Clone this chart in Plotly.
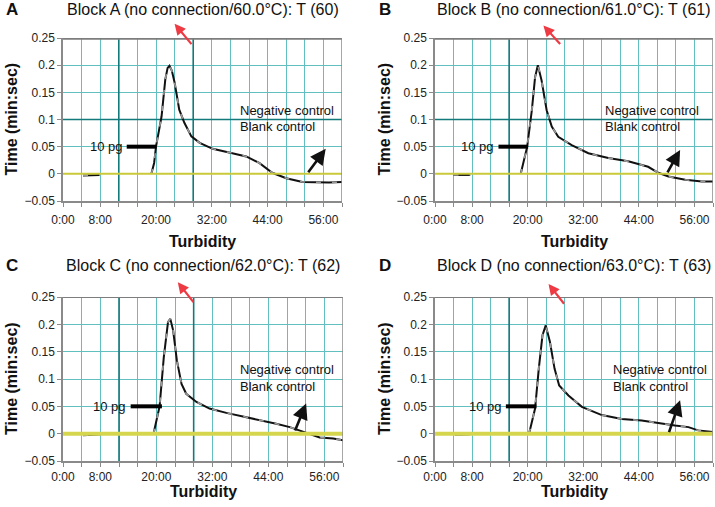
import plotly.graph_objects as go

# ---------------- data ----------------
minutes_A = [4.3, 6.0, 7.9, None, 19.0, 19.6, 20.0, 21.2, 22.0, 22.5, 22.9, 23.4, 24.0, 25.0, 26.1, 27.6, 29.4,
             32.2, 36.4, 39.4, 42.2, 45.0, 48.0, 51.5, 57.2, 60.0]
values_A = [-0.003, -0.003, -0.002, None, 0.0, 0.02, 0.05, 0.106, 0.174, 0.195, 0.199, 0.19, 0.168, 0.118, 0.094,
            0.069, 0.057, 0.046, 0.038, 0.032, 0.020, 0.002, -0.008, -0.015, -0.016, -0.015]

minutes_B = [4.0, 7.6, None, 18.5, 19.9, 20.9, 21.6, 22.2, 23.0, 24.1, 25.2, 26.6, 29.5, 33.1, 37.4, 41.7,
             46.0, 48.2, 50.4, 54.0, 57.6, 60.0]
values_B = [-0.002, -0.002, None, 0.0, 0.05, 0.117, 0.178, 0.2, 0.172, 0.117, 0.087, 0.068, 0.053, 0.038,
            0.029, 0.023, 0.013, 0.002, -0.005, -0.011, -0.014, -0.014]

minutes_C = [4.3, 8.2, None, 19.4, 20.7, 21.6, 22.5, 23.0, 23.6, 24.4, 25.4, 26.4, 28.6, 31.4, 35.0, 39.3,
             42.9, 45.7, 48.6, 50.7, 52.9, 55.0, 57.9, 60.0]
values_C = [-0.003, -0.001, None, 0.0, 0.05, 0.14, 0.204, 0.21, 0.189, 0.134, 0.091, 0.073, 0.058, 0.046,
            0.038, 0.030, 0.024, 0.018, 0.012, 0.006, 0.0, -0.007, -0.009, -0.012]

minutes_D = [4.3, 7.6, None, 20.3, 21.6, 22.4, 23.2, 23.9, 24.8, 25.8, 26.8, 28.8, 31.7, 36.0, 40.3, 44.6,
             48.9, 51.8, 54.7, 56.8, 60.0]
values_D = [-0.002, -0.001, None, 0.0, 0.046, 0.119, 0.18, 0.198, 0.168, 0.119, 0.088, 0.070, 0.049, 0.034,
            0.027, 0.024, 0.018, 0.015, 0.012, 0.006, 0.003]

control_minutes = [0, 60]
control_values = [0, 0]

panel_letters = ["A", "B", "C", "D"]
panel_titles = ["Block A (no connection/60.0°C): T (60)",
                "Block B (no connection/61.0°C): T (61)",
                "Block C (no connection/62.0°C): T (62)",
                "Block D (no connection/63.0°C): T (63)"]

x_tick_vals = [0, 8, 20, 32, 44, 56]
x_tick_text = ["0:00", "8:00", "20:00", "32:00", "44:00", "56:00"]
y_tick_vals = [-0.05, 0, 0.05, 0.1, 0.15, 0.2, 0.25]
y_tick_text = ["−0.05", "0", "0.05", "0.1", "0.15", "0.2", "0.25"]

series_label = "10 pg"
control_labels = ["Negative control", "Blank control"]

# ---------------- layout configuration ----------------
W, H = 715, 507
FONT = "Liberation Sans, Arial, sans-serif"
GRID = "#62bfc0"
DARK = "#137a7c"
AXIS = "#8a8a8a"

panels = [
    dict(t=minutes_A, v=values_A, xpx=(63, 342), ypx=(38, 201), dark_v=[12, 28], dark_h=[0.1], top_w=3.5,
         base_w=2, base_c="#c9c93a", bar=(13.7, 20.1), lab_x=13.4, ctrl_x=37.7, title_y=10, xt_y=241, stand=3,
         black=((52.5, 0.0), (56.5, 0.046)), red=((27.9, 0.236), (24.0, 0.276))),
    dict(t=minutes_B, v=values_B, xpx=(435, 713), ypx=(38, 201), dark_v=[16], dark_h=[0.1], top_w=3.5,
         base_w=2, base_c="#c9c93a", bar=(13.7, 20.1), lab_x=13.2, ctrl_x=36.3, title_y=10, xt_y=241, stand=3,
         black=((50.0, 0.0), (52.9, 0.044)), red=((27.3, 0.236), (23.4, 0.273))),
    dict(t=minutes_C, v=values_C, xpx=(63, 343), ypx=(297, 461), dark_v=[12, 28], dark_h=[], top_w=2,
         base_w=4, base_c="#d6d64e", bar=(14.5, 21.2), lab_x=14.0, ctrl_x=37.5, title_y=265, xt_y=491, stand=0,
         black=((49.6, 0.003), (52.1, 0.055)), red=((28.2, 0.238), (24.6, 0.277))),
    dict(t=minutes_D, v=values_D, xpx=(435, 713), ypx=(297, 461), dark_v=[16], dark_h=[], top_w=2,
         base_w=4, base_c="#d6d64e", bar=(15.3, 21.9), lab_x=14.8, ctrl_x=38.0, title_y=265, xt_y=491, stand=0,
         black=((50.4, 0.0), (52.9, 0.061)), red=((28.1, 0.235), (24.5, 0.274))),
]

fig = go.Figure()
shapes = []
annotations = []
layout = {}

grid_ticks = list(range(0, 61, 4))
grid_text = [x_tick_text[x_tick_vals.index(g)] if g in x_tick_vals else "" for g in grid_ticks]

for i, p in enumerate(panels):
    n = i + 1
    xa = "x" if n == 1 else f"x{n}"
    ya = "y" if n == 1 else f"y{n}"
    x0, x1 = p["xpx"]
    ytop, ybot = p["ypx"]
    xdom = [x0 / W, x1 / W]
    ydom = [1 - ybot / H, 1 - ytop / H]

    layout["xaxis" if n == 1 else f"xaxis{n}"] = dict(
        domain=xdom, anchor=ya, range=[0, 60], tickmode="array", tickvals=grid_ticks, ticktext=grid_text,
        showgrid=True, gridcolor=GRID, gridwidth=1, zeroline=False, showline=True, linecolor=AXIS,
        linewidth=1.5, ticks="outside", ticklen=4, tickcolor=AXIS, tickwidth=1, automargin=False,
        ticklabelstandoff=p["stand"],
        tickfont=dict(family=FONT, size=12, color="#222"), fixedrange=True)
    layout["yaxis" if n == 1 else f"yaxis{n}"] = dict(
        domain=ydom, anchor=xa, range=[-0.05, 0.25], tickmode="array", tickvals=y_tick_vals,
        ticktext=y_tick_text, showgrid=True, gridcolor=GRID, gridwidth=1, zeroline=False, showline=True,
        linecolor=AXIS, linewidth=1.5, ticks="outside", ticklen=4, tickcolor=AXIS, tickwidth=1, automargin=False,
        tickfont=dict(family=FONT, size=12, color="#222"), fixedrange=True)

    # darker reference gridlines
    for dv in p["dark_v"]:
        shapes.append(dict(type="line", xref=xa, yref=ya, x0=dv, x1=dv, y0=-0.05, y1=0.25,
                           line=dict(color=DARK, width=1.6), layer="between"))
    for dh in p["dark_h"]:
        shapes.append(dict(type="line", xref=xa, yref=ya, x0=0, x1=60, y0=dh, y1=dh,
                           line=dict(color=DARK, width=1.6), layer="between"))
    # top and right border
    shapes.append(dict(type="line", xref=xa, yref=ya, x0=0, x1=60, y0=0.25, y1=0.25,
                       line=dict(color="#7d7d7d", width=p["top_w"])))
    shapes.append(dict(type="line", xref=xa, yref=ya, x0=60, x1=60, y0=-0.05, y1=0.25,
                       line=dict(color=AXIS, width=1.5)))

    # 10 pg curve: black line with gray scan-like overlay
    fig.add_trace(go.Scatter(x=p["t"], y=p["v"], xaxis=xa, yaxis=ya, mode="lines",
                             line=dict(color="#111", width=2), connectgaps=False,
                             showlegend=False, hoverinfo="skip"))
    fig.add_trace(go.Scatter(x=p["t"], y=p["v"], xaxis=xa, yaxis=ya, mode="lines",
                             line=dict(color="#9a9a9a", width=1.6, dash="5px,11px"), connectgaps=False,
                             showlegend=False, hoverinfo="skip"))
    # negative / blank control baseline
    fig.add_trace(go.Scatter(x=control_minutes, y=control_values, xaxis=xa, yaxis=ya, mode="lines",
                             line=dict(color=p["base_c"], width=p["base_w"]),
                             showlegend=False, hoverinfo="skip"))

    # 10 pg label bar
    shapes.append(dict(type="line", xref=xa, yref=ya, x0=p["bar"][0], x1=p["bar"][1], y0=0.05, y1=0.05,
                       line=dict(color="#000", width=4)))
    annotations.append(dict(xref=xa, yref=ya, x=p["lab_x"], y=0.05, text=series_label, showarrow=False,
                            xanchor="right", yanchor="middle", font=dict(family=FONT, size=13, color="#111")))
    # control labels
    for lab, yy in zip(control_labels, [0.117, 0.087]):
        annotations.append(dict(xref=xa, yref=ya, x=p["ctrl_x"], y=yy, text=lab, showarrow=False,
                                xanchor="left", yanchor="middle", font=dict(family=FONT, size=13, color="#111")))
    # black arrow
    (bt, bh) = p["black"]
    annotations.append(dict(xref=xa, yref=ya, axref=xa, ayref=ya, x=bh[0], y=bh[1], ax=bt[0], ay=bt[1],
                            text="", showarrow=True, arrowhead=2, arrowsize=1.2, arrowwidth=2.6,
                            arrowcolor="#111"))
    # red arrow
    (rt, rh) = p["red"]
    annotations.append(dict(xref=xa, yref=ya, axref=xa, ayref=ya, x=rh[0], y=rh[1], ax=rt[0], ay=rt[1],
                            text="", showarrow=True, arrowhead=2, arrowsize=1.0, arrowwidth=2.2,
                            arrowcolor="#ee3a43"))

    # panel title and letter
    ty = p["title_y"]
    annotations.append(dict(xref="paper", yref="paper", x=(x0 + x1) / 2 / W, y=1 - ty / H, text=panel_titles[i],
                            showarrow=False, xanchor="center", yanchor="middle",
                            font=dict(family=FONT, size=16, color="#111")))
    lx = 4 if x0 < 200 else 377
    annotations.append(dict(xref="paper", yref="paper", x=lx / W, y=1 - ty / H, text="<b>%s</b>" % panel_letters[i],
                            showarrow=False, xanchor="left", yanchor="middle",
                            font=dict(family=FONT, size=17, color="#111")))
    # axis titles
    annotations.append(dict(xref="paper", yref="paper", x=(x0 + x1) / 2 / W, y=1 - p["xt_y"] / H,
                            text="<b>Turbidity</b>", showarrow=False, xanchor="center", yanchor="middle",
                            font=dict(family=FONT, size=16, color="#111")))
    yx = 11 if x0 < 200 else 384
    annotations.append(dict(xref="paper", yref="paper", x=yx / W, y=1 - (ytop + ybot) / 2 / H,
                            text="<b>Time (min:sec)</b>", showarrow=False, textangle=-90,
                            xanchor="center", yanchor="middle", font=dict(family=FONT, size=16, color="#111")))

fig.update_layout(width=W, height=H, margin=dict(l=0, r=0, t=0, b=0, pad=0, autoexpand=False),
                  paper_bgcolor="white", plot_bgcolor="white", shapes=shapes, annotations=annotations, **layout)

fig.write_html("out.html", config={"displayModeBar": False},
               post_script="document.body.style.margin='0';document.body.style.padding='0';"
                           "document.body.style.overflow='hidden';")
